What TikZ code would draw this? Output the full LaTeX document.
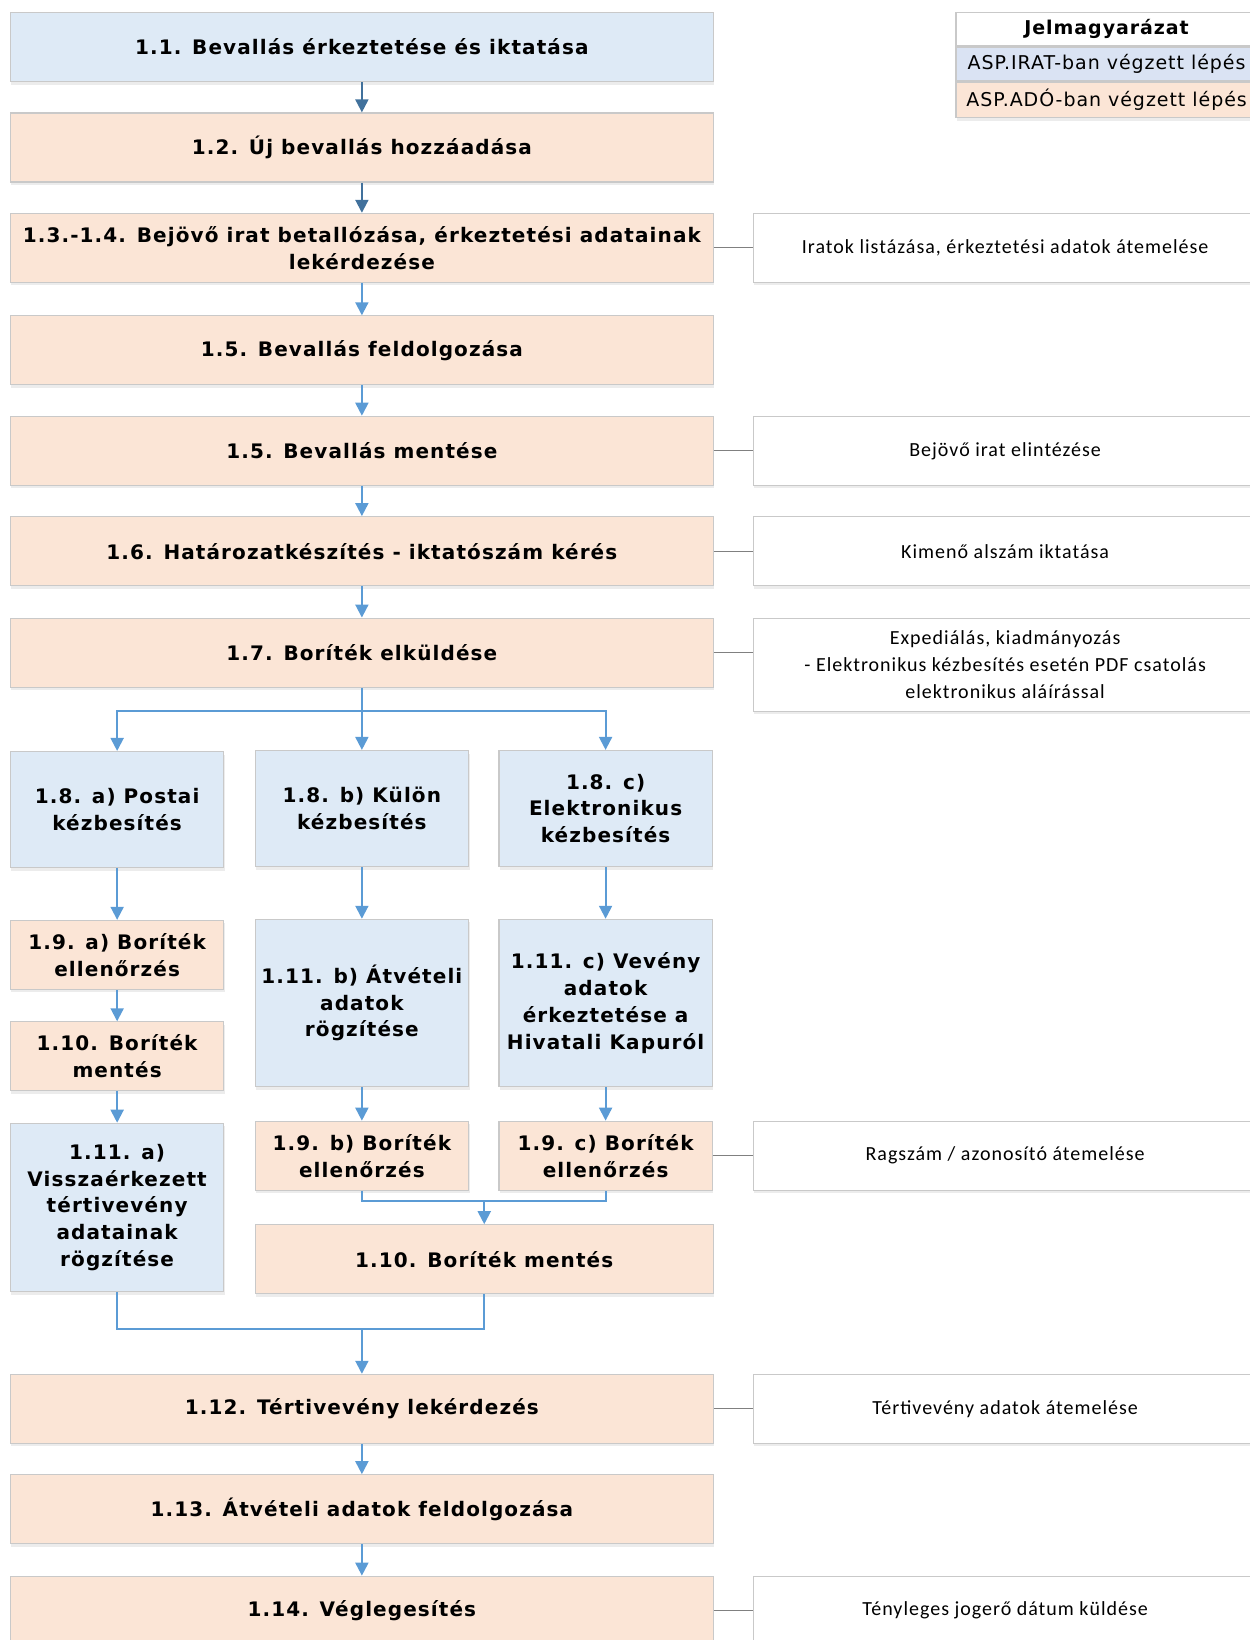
\documentclass[tikz,border=0pt]{standalone}
\usepackage{fontspec}
\setmainfont{DejaVu Sans}
\newfontfamily\stepfont{DejaVu Sans}[LetterSpace=5.5]
\newfontfamily\legfont{DejaVu Sans}[LetterSpace=5]
\newfontfamily\notefont{Carlito}[LetterSpace=5]
\usetikzlibrary{arrows.meta,shadows,positioning}

\definecolor{iratfill}{HTML}{DEEAF6}
\definecolor{adofill}{HTML}{FBE5D6}
\definecolor{legblue}{HTML}{DAE3F3}
\definecolor{boxline}{HTML}{C9C9C9}
\definecolor{flowblue}{HTML}{5B9BD5}
\definecolor{flowdark}{HTML}{41719C}
\definecolor{sidegray}{HTML}{808080}

\begin{document}
\begin{tikzpicture}[x=0.523pt,y=-0.523pt,
    stepbox/.style={draw=boxline,line width=0.6pt,align=center,inner sep=1pt,
        drop shadow={opacity=0.15,shadow xshift=0.5pt,shadow yshift=-1.5pt}},
    irat/.style={stepbox,fill=iratfill,font=\stepfont\fontsize{10}{13.4}\selectfont\bfseries},
    ado/.style={stepbox,fill=adofill,font=\stepfont\fontsize{10}{13.4}\selectfont\bfseries},
    wide/.style={minimum width=351.5pt,minimum height=34.5pt},
    narrow/.style={minimum width=106.7pt},
    note/.style={stepbox,fill=white,minimum width=252pt,minimum height=34.5pt,
        font=\notefont\fontsize{10}{13.6}\selectfont},
    legend/.style={stepbox,minimum width=150.6pt,minimum height=16.8pt,
        font=\legfont\fontsize{9.5}{11}\selectfont},
    flowline/.style={draw=flowblue,line width=1pt},
    flow/.style={flowline,-{Triangle[width=6.5pt,length=6.5pt]}},
    sidelink/.style={draw=sidegray,line width=0.6pt}]
\useasboundingbox (0,0) rectangle (1195,1568);

% main column
\node[irat,wide] (b11) at (346,45) {1.1. Bevallás érkeztetése és iktatása};
\node[ado,wide] (b12) at (346,141) {1.2. Új bevallás hozzáadása};
\node[ado,wide] (b134) at (346,237) {1.3.-1.4. Bejövő irat betallózása, érkeztetési adatainak\\lekérdezése};
\node[ado,wide] (b15a) at (346,335) {1.5. Bevallás feldolgozása};
\node[ado,wide] (b15b) at (346,431) {1.5. Bevallás mentése};
\node[ado,wide] (b16) at (346,527) {1.6. Határozatkészítés - iktatószám kérés};
\node[ado,wide] (b17) at (346,624) {1.7. Boríték elküldése};

% delivery branches
\node[irat,narrow,minimum height=58pt] (b18a) at (112,774) {1.8. a) Postai\\kézbesítés};
\node[irat,narrow,minimum height=58pt] (b18b) at (346,773) {1.8. b) Külön\\kézbesítés};
\node[irat,narrow,minimum height=58pt] (b18c) at (579,773) {1.8. c)\\Elektronikus\\kézbesítés};
\node[ado,narrow,minimum height=34.5pt] (b19a) at (112,913) {1.9. a) Boríték\\ellenőrzés};
\node[ado,narrow,minimum height=34.5pt] (b110a) at (112,1010) {1.10. Boríték\\mentés};
\node[irat,narrow,minimum height=84.2pt] (b111a) at (112,1154.5) {1.11. a)\\Visszaérkezett\\tértivevény\\adatainak\\rögzítése};
\node[irat,narrow,minimum height=83.7pt] (b111b) at (346,959) {1.11. b) Átvételi\\adatok\\rögzítése};
\node[irat,narrow,minimum height=83.7pt] (b111c) at (579,959) {1.11. c) Vevény\\adatok\\érkeztetése a\\Hivatali Kapuról};
\node[ado,narrow,minimum height=34.5pt] (b19b) at (346,1105) {1.9. b) Boríték\\ellenőrzés};
\node[ado,narrow,minimum height=34.5pt] (b19c) at (579,1105) {1.9. c) Boríték\\ellenőrzés};
\node[ado,minimum width=229pt,minimum height=34.5pt] (b110bc) at (463,1204) {1.10. Boríték mentés};
\node[ado,wide] (b112) at (346,1347) {1.12. Tértivevény lekérdezés};
\node[ado,wide] (b113) at (346,1443) {1.13. Átvételi adatok feldolgozása};
\node[ado,wide] (b114) at (346,1540) {1.14. Véglegesítés};

% side notes
\node[note] (n134) at (961,237) {Iratok listázása, érkeztetési adatok átemelése};
\node[note] (n15b) at (961,431) {Bejövő irat elintézése};
\node[note] (n16) at (961,527) {Kimenő alszám iktatása};
\node[note,minimum height=46.5pt] (n17) at (961,635.5) {Expediálás, kiadmányozás\\- Elektronikus kézbesítés esetén PDF csatolás\\elektronikus aláírással};
\node[note] (n19c) at (961,1105) {Ragszám / azonosító átemelése};
\node[note] (n112) at (961,1347) {Tértivevény adatok átemelése};
\node[note] (n114) at (961,1540) {Tényleges jogerő dátum küldése};

% legend
\node[legend,fill=white,font=\legfont\fontsize{9.5}{11}\selectfont\bfseries] (leg) at (1058,28) {Jelmagyarázat};
\node[legend,fill=legblue,below=0pt of leg] (legirat) {ASP.IRAT-ban végzett lépés};
\node[legend,fill=adofill,minimum height=17.8pt,below=0pt of legirat] (legado) {ASP.ADÓ-ban végzett lépés};

% connectors
\draw[flow,draw=flowdark] (b11.south) -- (b12.north);
\draw[flow,draw=flowdark] (b12.south) -- (b134.north);
\foreach \a/\b in {b134/b15a,b15a/b15b,b15b/b16,b16/b17,b17/b18b,
    b18a/b19a,b19a/b110a,b110a/b111a,b18b/b111b,b111b/b19b,b18c/b111c,b111c/b19c,
    b112/b113,b113/b114}
  \draw[flow] (\a.south) -- (\b.north);
\coordinate (fork) at (346,680);
\draw[flow] (fork) -| (b18a.north);
\draw[flow] (fork) -| (b18c.north);
\coordinate (join1) at (463,1148);
\draw[flowline] (b19b.south) |- (join1) -| (b19c.south);
\draw[flow] (join1) -- (b110bc.north);
\coordinate (join2) at (346,1271);
\draw[flowline] (b111a.south) |- (join2) -| (b110bc.south);
\draw[flow] (join2) -- (b112.north);

\foreach \a/\b in {b134/n134,b15b/n15b,b16/n16,b19c/n19c,b112/n112,b114/n114}
  \draw[sidelink] (\a.east) -- (\b.west);
\draw[sidelink] (b17.east) -- (b17.east -| n17.west);
\end{tikzpicture}
\end{document}
